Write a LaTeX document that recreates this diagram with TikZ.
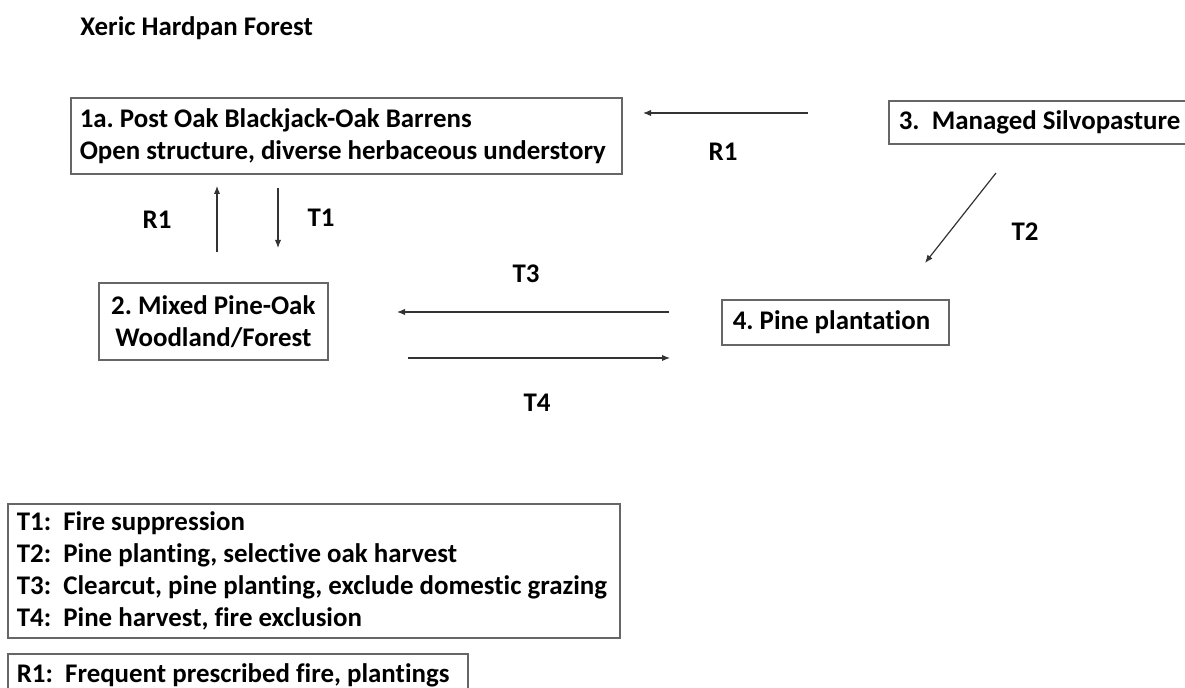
\documentclass[tikz,border=0pt]{standalone}
\usepackage{fontspec}
\setmainfont[Ligatures=NoCommon]{Carlito}
\usetikzlibrary{arrows.meta}
\frenchspacing

\tikzset{
  state/.style={draw=black!60, line width=0.8pt, inner ysep=0pt, anchor=north west,
                font=\bfseries\fontsize{13.45}{16}\selectfont},
  trans/.style={black!80, line width=0.6pt, -{Latex[length=4pt,width=3.2pt]}},
  lbl/.style={font=\bfseries\fontsize{13.45}{16}\selectfont},
}

\begin{document}
\begin{tikzpicture}[x=0.5pt, y=-0.5pt]
      \useasboundingbox (0,0) rectangle (1185,688);
      % title
      \node [lbl, anchor=west, inner sep=0pt] (title) at (80,28) {Xeric Hardpan Forest};
      % states
      \node [state, minimum height=38pt, text width=266.5pt, inner xsep=4.5pt, align=flush left] (s1a) at (70,97)
             {1a. Post Oak Blackjack-Oak Barrens\\Open structure, diverse herbaceous understory};
      \node [state, minimum width=114.5pt, minimum height=38.5pt, align=center] (s2) at (98,282)
             {2. Mixed Pine-Oak\\Woodland/Forest};
      \node [state, minimum height=21.5pt, text width=200pt, inner xsep=5pt, align=flush left] (s3) at (888,100)
             {3.\ \ Managed Silvopasture};
      \node [state, minimum height=22.5pt, text width=102.5pt, inner xsep=5.5pt, align=flush left] (s4) at (721,299)
             {4. Pine plantation};
      % legend
      \node [state, minimum height=67pt, text width=297pt, inner xsep=4.5pt, align=flush left] (keyt) at (7,503)
             {T1:\ \ Fire suppression\\
              T2:\ \ Pine planting, selective oak harvest\\
              T3:\ \ Clearcut, pine planting, exclude domestic grazing\\
              T4:\ \ Pine harvest, fire exclusion};
      \node [state, minimum height=22pt, text width=221pt, inner xsep=4.5pt, align=flush left] (keyr) at (7,653)
             {R1:\ \ Frequent prescribed fire, plantings};
      % arrow ends
      \coordinate (r1a) at (808,113);
      \coordinate (r1b) at (643,113);
      \coordinate (r1c) at (217,252);
      \coordinate (r1d) at (217,186);
      \coordinate (t1a) at (278,188);
      \coordinate (t1b) at (278,248);
      \coordinate (t2a) at (996,173);
      \coordinate (t2b) at (925,263);
      \coordinate (t3a) at (669,312);
      \coordinate (t3b) at (397,312);
      \coordinate (t4a) at (408,358);
      \coordinate (t4b) at (670,358);
      \draw [trans] (r1a) -- (r1b);
      \draw [trans] (r1c) -- (r1d);
      \draw [trans] (t1a) -- (t1b);
      \draw [trans] (t2a) -- (t2b);
      \draw [trans] (t3a) -- (t3b);
      \draw [trans] (t4a) -- (t4b);
      % labels
      \node [lbl] (lr1a) at (723,152) {R1};
      \node [lbl] (lr1b) at (157,220) {R1};
      \node [lbl] (lt1) at (321,218) {T1};
      \node [lbl] (lt2) at (1025,232) {T2};
      \node [lbl] (lt3) at (526,274) {T3};
      \node [lbl] (lt4) at (537,403) {T4};
\end{tikzpicture}
\end{document}
